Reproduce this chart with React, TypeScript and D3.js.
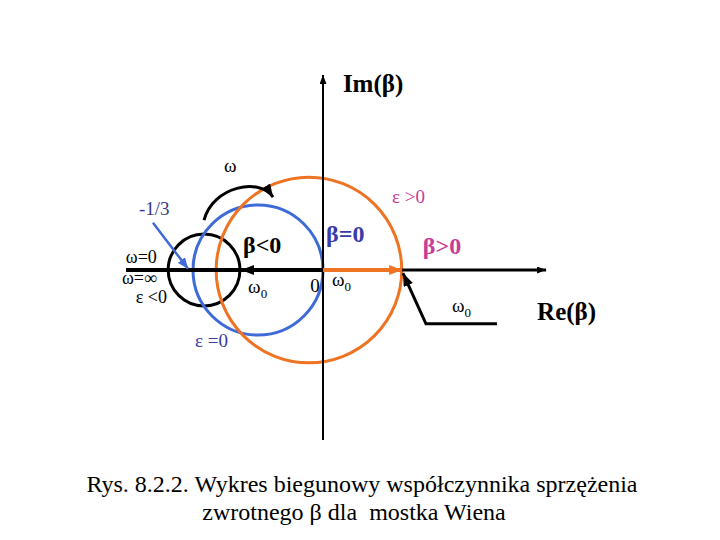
import React, { useEffect, useRef } from "react";
import * as d3 from "d3";

// Okręgi wykresu biegunowego (środek na osi Re, promień) – jednostki β
const circleNames = ["eps<0", "eps=0", "eps>0"];
const circleCentres = [-0.305, -1 / 6, -0.036];
const circleRadii = [0.092, 1 / 6, 0.238];

// Zakres osi
const reExtent = [-0.505, 0.572];
const imExtent = [-0.436, 0.5];

// Strzałki od początku układu wzdłuż osi Re (β<0, β>0)
const arrowNames = ["neg", "pos"];
const arrowEnds = [-0.21, 0.203];

// Wskaźniki (linie z grotem)
const pointerMinusThird = [
  [-0.436, 0.121],
  [-0.346, 0.003],
];
const pointerOmega0 = [
  [0.446, -0.138],
  [0.264, -0.138],
  [0.205, -0.008],
];
// Łuk "ω": początek, punkty kontrolne, koniec
const omegaArc = [
  [-0.305, 0.128],
  [-0.282, 0.215],
  [-0.162, 0.238],
  [-0.128, 0.187],
];

// Etykiety (pozycja linii bazowej w jednostkach β)
const labelTexts = ["Im(β)", "ω", "ε >0", "-1/3", "β<0", "β=0", "β>0", "ω=0", "ω=∞", "ε <0", "ω", "0", "ω", "ω", "Re(β)", "ε =0"];
const labelSubs = ["", "", "", "", "", "", "", "", "", "", "0", "", "0", "0", "", ""];
const labelRe = [0.051, -0.238, 0.177, -0.472, -0.205, 0.008, 0.256, -0.426, -0.426, -0.4, -0.192, -0.033, 0.023, 0.331, 0.549, -0.328];
const labelIm = [0.456, 0.251, 0.172, 0.141, 0.044, 0.072, 0.041, 0.018, -0.036, -0.085, -0.059, -0.056, -0.041, -0.108, -0.128, -0.197];
const labelKinds = ["axis", "mid", "pink", "navy", "big", "bigBlue", "bigPink", "end", "end", "end", "small", "small", "small", "small", "axis", "blue"];

const captionLines = [
  "Rys. 8.2.2. Wykres biegunowy współczynnika sprzężenia",
  "zwrotnego β dla  mostka Wiena",
];

const circleColors: { [k: string]: string } = {
  "eps<0": "#000000",
  "eps=0": "#3f6bd8",
  "eps>0": "#ee7322",
};

const kindStyle: { [k: string]: { size: number; weight: string; fill: string; anchor: string } } = {
  axis: { size: 25, weight: "bold", fill: "#000", anchor: "start" },
  mid: { size: 19, weight: "normal", fill: "#000", anchor: "middle" },
  pink: { size: 19, weight: "normal", fill: "#c83c96", anchor: "start" },
  navy: { size: 19, weight: "normal", fill: "#3a3a8c", anchor: "start" },
  big: { size: 24, weight: "bold", fill: "#000", anchor: "start" },
  bigBlue: { size: 24, weight: "bold", fill: "#3a3aa8", anchor: "start" },
  bigPink: { size: 24, weight: "bold", fill: "#c83c96", anchor: "start" },
  end: { size: 18, weight: "normal", fill: "#000", anchor: "end" },
  small: { size: 19, weight: "normal", fill: "#000", anchor: "start" },
  blue: { size: 19, weight: "normal", fill: "#3a3aa8", anchor: "start" },
};

const FONT = "'Liberation Serif', 'Times New Roman', serif";

export default function App() {
  const svgRef = useRef<SVGSVGElement | null>(null);

  useEffect(() => {
    if (!svgRef.current) return;
    const svg = d3.select(svgRef.current);
    svg.selectAll("*").remove();

    // 1 jednostka β = 390 px, początek w (323, 270)
    const x = d3.scaleLinear().domain([-0.5, 0.5]).range([128, 518]);
    const y = d3.scaleLinear().domain([-0.5, 0.5]).range([465, 75]);
    const k = x(1) - x(0);

    // Groty strzałek
    const defs = svg.append("defs");
    const addMarker = (id: string, color: string, len: number, wid: number) => {
      defs
        .append("marker")
        .attr("id", id)
        .attr("viewBox", `0 0 ${len} ${wid}`)
        .attr("refX", len)
        .attr("refY", wid / 2)
        .attr("markerWidth", len)
        .attr("markerHeight", wid)
        .attr("markerUnits", "userSpaceOnUse")
        .attr("orient", "auto")
        .append("path")
        .attr("d", `M0,0 L${len},${wid / 2} L0,${wid} Z`)
        .attr("fill", color);
    };
    addMarker("axisHead", "#000", 9, 7);
    addMarker("blackHead", "#000", 13, 10);
    addMarker("orangeHead", "#ee7322", 13, 10);
    addMarker("blueHead", "#3f6bd8", 11, 9);

    // Okręgi
    svg
      .append("g")
      .selectAll("circle")
      .data(circleNames)
      .enter()
      .append("circle")
      .attr("cx", (_, i) => x(circleCentres[i]))
      .attr("cy", y(0))
      .attr("r", (_, i) => circleRadii[i] * k)
      .attr("fill", "none")
      .attr("stroke", (d) => circleColors[d])
      .attr("stroke-width", 3);

    // Oś Im
    svg
      .append("line")
      .attr("x1", x(0))
      .attr("x2", x(0))
      .attr("y1", y(imExtent[0]))
      .attr("y2", y(imExtent[1]))
      .attr("stroke", "#000")
      .attr("stroke-width", 2)
      .attr("marker-end", "url(#axisHead)");

    // Oś Re – lewa część gruba
    svg
      .append("line")
      .attr("x1", x(reExtent[0]))
      .attr("x2", x(0))
      .attr("y1", y(0))
      .attr("y2", y(0))
      .attr("stroke", "#000")
      .attr("stroke-width", 4);

    svg
      .append("line")
      .attr("x1", x(0))
      .attr("x2", x(reExtent[1]))
      .attr("y1", y(0))
      .attr("y2", y(0))
      .attr("stroke", "#000")
      .attr("stroke-width", 3)
      .attr("marker-end", "url(#axisHead)");

    // Strzałki β<0 i β>0
    svg
      .append("g")
      .selectAll("line")
      .data(arrowNames)
      .enter()
      .append("line")
      .attr("x1", x(0))
      .attr("x2", (_, i) => x(arrowEnds[i]))
      .attr("y1", y(0))
      .attr("y2", y(0))
      .attr("stroke", (d) => (d === "neg" ? "#000" : "#ee7322"))
      .attr("stroke-width", 4)
      .attr("marker-end", (d) => (d === "neg" ? "url(#blackHead)" : "url(#orangeHead)"));

    const line = d3
      .line<number[]>()
      .x((d) => x(d[0]))
      .y((d) => y(d[1]));

    // Wskaźnik -1/3
    svg
      .append("path")
      .attr("d", line(pointerMinusThird))
      .attr("fill", "none")
      .attr("stroke", "#3f6bd8")
      .attr("stroke-width", 2.5)
      .attr("marker-end", "url(#blueHead)");

    // Wskaźnik ω0 (β>0)
    svg
      .append("path")
      .attr("d", line(pointerOmega0))
      .attr("fill", "none")
      .attr("stroke", "#000")
      .attr("stroke-width", 3)
      .attr("marker-end", "url(#blackHead)");

    // Łuk ω
    const arc = d3.path();
    arc.moveTo(x(omegaArc[0][0]), y(omegaArc[0][1]));
    arc.bezierCurveTo(
      x(omegaArc[1][0]),
      y(omegaArc[1][1]),
      x(omegaArc[2][0]),
      y(omegaArc[2][1]),
      x(omegaArc[3][0]),
      y(omegaArc[3][1])
    );
    svg
      .append("path")
      .attr("d", arc.toString())
      .attr("fill", "none")
      .attr("stroke", "#000")
      .attr("stroke-width", 3)
      .attr("marker-end", "url(#blackHead)");

    // Etykiety
    const labels = svg
      .append("g")
      .selectAll("text")
      .data(labelTexts.map((t, i) => ({ t, i })))
      .enter()
      .append("text")
      .attr("x", (d) => x(labelRe[d.i]))
      .attr("y", (d) => y(labelIm[d.i]))
      .attr("text-anchor", (d) => kindStyle[labelKinds[d.i]].anchor)
      .style("font-family", FONT)
      .style("font-size", (d) => `${kindStyle[labelKinds[d.i]].size}px`)
      .style("font-weight", (d) => kindStyle[labelKinds[d.i]].weight)
      .style("white-space", "pre")
      .attr("fill", (d) => kindStyle[labelKinds[d.i]].fill);

    labels.append("tspan").text((d) => d.t);
    labels
      .filter((d) => labelSubs[d.i] !== "")
      .append("tspan")
      .attr("dy", 5)
      .style("font-size", "13px")
      .text((d) => labelSubs[d.i]);

    // Podpis (druga linia lekko przesunięta w lewo, jak w oryginale)
    svg
      .append("g")
      .selectAll("text")
      .data(captionLines)
      .enter()
      .append("text")
      .attr("x", (_, i) => (i === 0 ? 362 : 354))
      .attr("y", (_, i) => 492 + i * 28)
      .attr("text-anchor", "middle")
      .style("font-family", FONT)
      .style("font-size", "24px")
      .style("white-space", "pre")
      .attr("fill", "#000")
      .text((d) => d);
  }, []);

  return (
    <svg
      ref={svgRef}
      width={720}
      height={540}
      style={{ position: "absolute", left: 0, top: 0, background: "#fff" }}
    ></svg>
  );
}
